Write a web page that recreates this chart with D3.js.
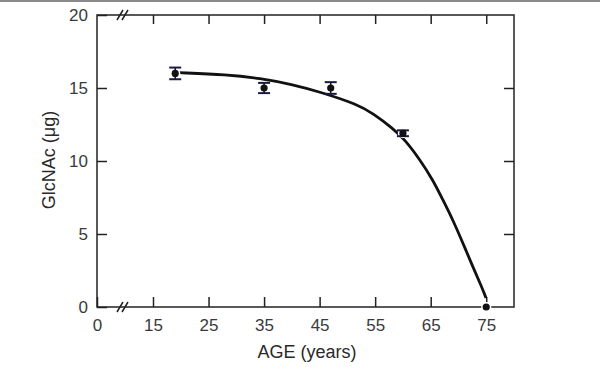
<!DOCTYPE html>
<html>
<head>
<meta charset="utf-8">
<script src="https://cdn.jsdelivr.net/npm/d3@7"></script>
<style>
  body { margin: 0; background: #fff; }
  svg { display: block; }
  .tick text { font-family: "Liberation Sans", Arial, sans-serif; font-size: 17px; fill: #3a3a3a; }
  .label { font-family: "Liberation Sans", Arial, sans-serif; font-size: 18px; fill: #2a2a2a; }
</style>
</head>
<body>
<div id="chart"></div>
<script>
'use strict';

// measured points (age, GlcNAc µg, error)
var ages = [19, 35, 47, 60, 75];
var glcnac = [16.0, 15.0, 15.0, 11.9, 0.0];
var errors = [0.4, 0.35, 0.4, 0.2, 0];

// hand drawn curve
var curveAges = [19.6, 28.3, 34.3, 40, 45.1, 51.8, 54.6, 58.2, 60.4, 63.1, 65.4, 67.2, 69.0, 70.8, 72.6, 74.2, 74.96];
var curveVals = [16.05, 15.92, 15.67, 15.25, 14.73, 13.88, 13.26, 12.23, 11.44, 10.07, 8.70, 7.33, 5.96, 4.38, 2.74, 1.37, 0.62];

var xTicks = [0, 15, 25, 35, 45, 55, 65, 75];
var yTicks = [0, 5, 10, 15, 20];

var width = 600, height = 371;
var plotLeft = 97, plotRight = 514, plotTop = 15, plotBottom = 307;

var svg = d3.select("#chart").append("svg")
    .attr("width", width)
    .attr("height", height);

svg.append("rect")
    .attr("x", 0).attr("y", 0)
    .attr("width", width).attr("height", 2)
    .attr("fill", "#8a8a8a");

// broken x axis: 0 sits at the left edge, 15..80 is linear
var x = d3.scaleLinear()
    .domain([0, 10, 15, 80])
    .range([plotLeft, 125, 153, plotRight]);

var y = d3.scaleLinear()
    .domain([0, 20])
    .range([plotBottom, plotTop]);

// frame
svg.append("rect")
    .attr("x", plotLeft).attr("y", plotTop)
    .attr("width", plotRight - plotLeft).attr("height", plotBottom - plotTop)
    .attr("fill", "none")
    .attr("stroke", "#222")
    .attr("stroke-width", 1.5);

function styleAxis(g) {
    g.select(".domain").remove();
    g.selectAll(".tick line").attr("stroke", "#222").attr("stroke-width", 1.5);
}

svg.append("g")
    .attr("transform", "translate(" + plotLeft + ",0)")
    .call(d3.axisLeft(y).tickValues(yTicks).tickSize(-10).tickPadding(9))
    .call(styleAxis);

svg.append("g")
    .attr("transform", "translate(" + plotRight + ",0)")
    .call(d3.axisRight(y).tickValues([5, 10, 15]).tickSize(-10).tickFormat(""))
    .call(styleAxis);

svg.append("g")
    .attr("transform", "translate(0," + plotBottom + ")")
    .call(d3.axisBottom(x).tickValues(xTicks).tickSize(-10).tickPadding(12))
    .call(styleAxis);

svg.append("g")
    .attr("transform", "translate(0," + plotTop + ")")
    .call(d3.axisTop(x).tickValues(xTicks.slice(1)).tickSize(-9).tickFormat(""))
    .call(styleAxis);

// axis break marks
[plotTop, plotBottom].forEach(function (yy) {
    [-3, 2].forEach(function (dx) {
        svg.append("line")
            .attr("x1", 120 + dx).attr("y1", yy + 5)
            .attr("x2", 126 + dx).attr("y2", yy - 5)
            .attr("stroke", "#222")
            .attr("stroke-width", 1.5);
    });
});

// fitted curve
var line = d3.line()
    .x(function (d, i) { return x(curveAges[i]); })
    .y(function (d) { return y(d); })
    .curve(d3.curveBasis);

svg.append("path")
    .datum(curveVals)
    .attr("d", line)
    .attr("fill", "none")
    .attr("stroke", "#111")
    .attr("stroke-width", 2.8);

// error bars and points
var pts = svg.append("g").selectAll("g")
    .data(ages)
    .enter().append("g");

pts.append("circle")
    .attr("cx", function (d) { return x(d); })
    .attr("cy", function (d, i) { return y(glcnac[i]); })
    .attr("r", 3.6)
    .attr("fill", "#111")
    .attr("stroke", "#fff")
    .attr("stroke-width", 3);

pts.each(function (d, i) {
    if (errors[i] <= 0) return;
    var g = d3.select(this);
    var cx = x(d), lo = y(glcnac[i] - errors[i]), hi = y(glcnac[i] + errors[i]);
    g.append("line").attr("x1", cx).attr("x2", cx).attr("y1", lo).attr("y2", hi)
        .attr("stroke", "#111").attr("stroke-width", 1.5);
    [lo, hi].forEach(function (yy) {
        g.append("line").attr("x1", cx - 6).attr("x2", cx + 6).attr("y1", yy).attr("y2", yy)
            .attr("stroke", "#1a1a40").attr("stroke-width", 2);
    });
});

pts.append("circle")
    .attr("cx", function (d) { return x(d); })
    .attr("cy", function (d, i) { return y(glcnac[i]); })
    .attr("r", 3.6)
    .attr("fill", "#111");

svg.append("text")
    .attr("class", "label")
    .attr("x", 307).attr("y", 358)
    .attr("text-anchor", "middle")
    .text("AGE (years)");

svg.append("text")
    .attr("class", "label")
    .attr("transform", "translate(55,160) rotate(-90)")
    .attr("text-anchor", "middle")
    .text("GlcNAc (μg)");
</script>
</body>
</html>
